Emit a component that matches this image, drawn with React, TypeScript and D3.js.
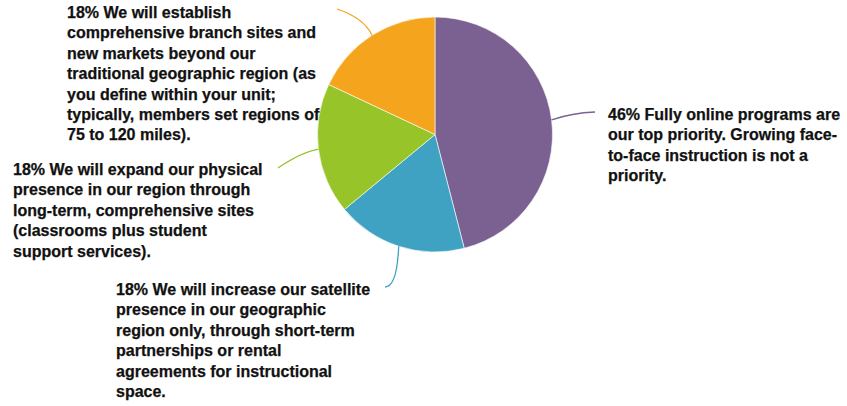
import React from "react";
import * as d3 from "d3";

const categories = [
  "Fully online programs",
  "Satellite presence",
  "Physical presence",
  "Branch sites",
];
const values = [46, 18, 18, 18];
const labelLines: string[][] = [
  [
    "46% Fully online programs are",
    "our top priority. Growing face-",
    "to-face instruction is not a",
    "priority.",
  ],
  [
    "18% We will increase our satellite",
    "presence in our geographic",
    "region only, through short-term",
    "partnerships or rental",
    "agreements for instructional",
    "space.",
  ],
  [
    "18% We will expand our physical",
    "presence in our region through",
    "long-term, comprehensive sites",
    "(classrooms plus student",
    "support services).",
  ],
  [
    "18% We will establish",
    "comprehensive branch sites and",
    "new markets beyond our",
    "traditional geographic region (as",
    "you define within your unit;",
    "typically, members set regions of",
    "75 to 120 miles).",
  ],
];

const colors = ["#7B6191", "#40A2C2", "#97C529", "#F5A51D"];

// layout: label anchor (x, first baseline) and leader end / control points
const layout = [
  { tx: 608, ty: 120, end: [595, 112], ctrl: [572, 113] },
  { tx: 116, ty: 295, end: [385, 287], ctrl: [397, 287] },
  { tx: 13, ty: 175, end: [278, 168], ctrl: [302, 152] },
  { tx: 67, ty: 18, end: [337, 9], ctrl: [364, 18] },
];

const W = 847;
const H = 406;
const cx = 435;
const cy = 134.5;
const R = 117.5;
const lineH = 20.4;

export default function App() {
  const pie = d3
    .pie<number>()
    .sort(null)
    .value((d) => d);
  const arcs = pie(values);
  const arc = d3.arc<d3.PieArcDatum<number>>().innerRadius(0).outerRadius(R);

  return (
    <svg
      width={W}
      height={H}
      style={{ position: "absolute", left: 0, top: 0 }}
      fontFamily="'Liberation Sans', Arial, Helvetica, sans-serif"
    >
      <g transform={`translate(${cx},${cy})`}>
        {arcs.map((a, i) => (
          <path
            key={categories[i]}
            d={arc(a) || ""}
            fill={colors[i]}
            stroke="#ffffff"
            strokeWidth={0.6}
          />
        ))}
      </g>
      {arcs.map((a, i) => {
        const mid = (a.startAngle + a.endAngle) / 2;
        const sx = cx + R * Math.sin(mid);
        const sy = cy - R * Math.cos(mid);
        const L = layout[i];
        const p = d3.path();
        p.moveTo(sx, sy);
        p.quadraticCurveTo(L.ctrl[0], L.ctrl[1], L.end[0], L.end[1]);
        return (
          <path
            key={"l" + i}
            d={p.toString()}
            fill="none"
            stroke={colors[i]}
            strokeWidth={1.3}
          />
        );
      })}
      {labelLines.map((lines, i) => (
        <text
          key={"t" + i}
          x={layout[i].tx}
          y={layout[i].ty}
          fontSize={16}
          fontWeight="bold"
          fill="#111111"
          stroke="#111111"
          strokeWidth={0.25}
        >
          {lines.map((ln, j) => (
            <tspan key={j} x={layout[i].tx} y={layout[i].ty + j * lineH}>
              {ln}
            </tspan>
          ))}
        </text>
      ))}
    </svg>
  );
}
